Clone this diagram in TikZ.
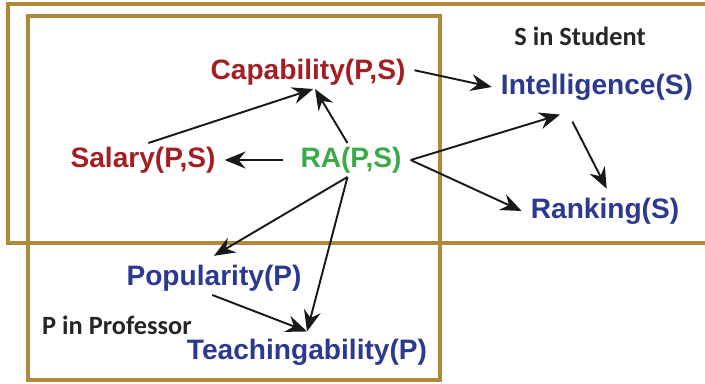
\documentclass[tikz,border=0pt]{standalone}
\usepackage{fontspec}
\setmainfont{Liberation Sans}
\newfontfamily\calibri{Carlito}
\usetikzlibrary{arrows.meta, positioning}

\definecolor{boxgold}{HTML}{B08A3A}
\definecolor{psred}{HTML}{A31F24}
\definecolor{sblue}{HTML}{2B3990}
\definecolor{ragreen}{HTML}{3DAA4A}

\begin{document}
\begin{tikzpicture}[
    x=0.02cm, y=-0.02cm,
    var/.style={inner sep=2pt, font=\fontsize{16}{18}\selectfont\bfseries},
    pair/.style={var, text=psred},
    single/.style={var, text=sblue},
    plate/.style={draw=boxgold, line width=2.3pt},
    platelabel/.style={font=\calibri\fontsize{15}{17}\selectfont\bfseries, text=black!85},
    edge/.style={-{Stealth[length=4.2mm, width=3.4mm, inset=1.4mm]}, line width=1.1pt, black!90}
]
    \useasboundingbox (0,0) rectangle (705,383);

    % plates
    \draw[plate] (712,4) -- (8,4) -- (8,243) -- (712,243);
    \draw[plate] (28,16) rectangle (440,380);
    \node[platelabel] (slab) at (580,36) {S in Student};
    \node[platelabel] (plab) at (117,325) {P in Professor};

    % variables
    \node[pair] (cap) at (308,72) {Capability(P,S)};
    \node[pair] (sal) at (143,160) {Salary(P,S)};
    \node[var, text=ragreen] (ra) at (351,160) {RA(P,S)};
    \node[single] (intel) at (597,87) {Intelligence(S)};
    \node[single] (rank) at (605,211) {Ranking(S)};
    \node[single] (pop) at (214,278) {Popularity(P)};
    \node[single] (teach) at (307,352) {Teachingability(P)};

    \draw[edge] ([xshift=3pt]sal.north) -- ([xshift=3pt]cap.south);
    \draw[edge] ([xshift=-2pt]ra.north) -- ([xshift=4pt]cap.south);
    \draw[edge, shorten <=8pt] (ra.west) -- ([xshift=3pt]sal.east);
    \draw[edge] ([xshift=3pt,yshift=1pt]cap.east) -- ([xshift=-3pt]intel.west);
    \draw[edge] ([xshift=3pt]ra.east) -- ([xshift=-21pt,yshift=-6pt]intel.south);
    \draw[edge] ([xshift=3pt]ra.east) -- ([xshift=-3pt]rank.west);
    \draw[edge] ([xshift=-14pt,yshift=-10pt]intel.south) -- ([xshift=1pt,yshift=3pt]rank.north);
    \draw[edge] ([xshift=-2pt]ra.south) -- ([yshift=3pt]pop.north);
    \draw[edge] ([xshift=-2pt]ra.south) -- ([yshift=2pt]teach.north);
    \draw[edge] ([xshift=-1pt]pop.south) -- ([yshift=2pt]teach.north);
\end{tikzpicture}
\end{document}
